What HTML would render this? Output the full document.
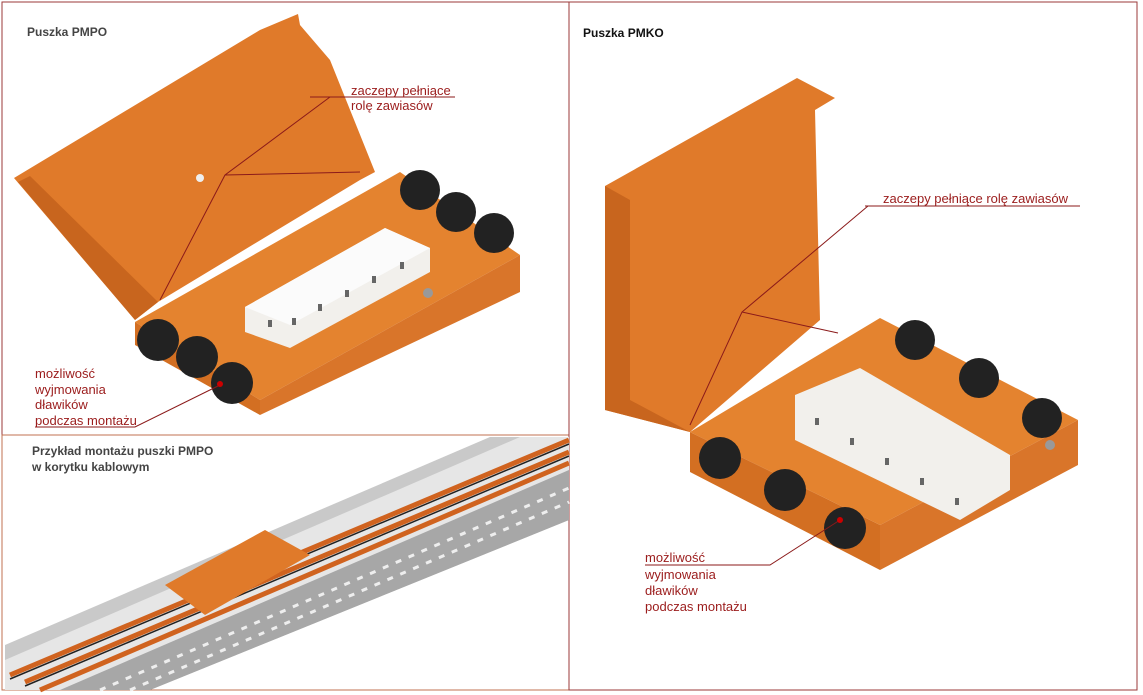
<!DOCTYPE html>
<html><head><meta charset="utf-8"><style>
html,body{margin:0;padding:0;background:#fff;width:1143px;height:695px;overflow:hidden}
svg{display:block;font-family:"Liberation Sans","Noto Sans CJK JP",sans-serif}
</style></head><body>
<svg width="1143" height="695" viewBox="0 0 1143 695" xmlns="http://www.w3.org/2000/svg">
<rect x="2" y="2" width="567" height="433" fill="none" stroke="#9b3a3a" stroke-width="1"/>
<rect x="2" y="435" width="567" height="255" fill="none" stroke="#c07050" stroke-width="1"/>
<rect x="569" y="2" width="568" height="688" fill="none" stroke="#9b3a3a" stroke-width="1"/>

<!-- PMPO top -->
<polygon points="14,178 260,30 298,14 300,25 330,60 375,172 360,180 158,302 135,320" fill="#e07a2a"/>
<polygon points="18,182 135,320 158,302 30,176" fill="#c8651e"/>
<polygon points="135,322 400,172 520,255 260,400" fill="#e4832f"/>
<polygon points="135,322 260,400 260,415 135,345" fill="#d36f22"/>
<polygon points="260,400 520,255 520,292 260,415" fill="#d9752a"/>
<polygon points="245,307 385,228 430,248 430,272 290,348 245,332" fill="#f2f0ec"/>
<polygon points="245,307 385,228 430,248 290,325" fill="#fbfbfb"/>
<g fill="#666"><rect x="268" y="320" width="4" height="7"/><rect x="292" y="318" width="4" height="7"/><rect x="318" y="304" width="4" height="7"/><rect x="345" y="290" width="4" height="7"/><rect x="372" y="276" width="4" height="7"/><rect x="400" y="262" width="4" height="7"/></g>
<g fill="#222"><circle cx="420" cy="190" r="20"/><circle cx="456" cy="212" r="20"/><circle cx="494" cy="233" r="20"/>
<circle cx="158" cy="340" r="21"/><circle cx="197" cy="357" r="21"/><circle cx="232" cy="383" r="21"/></g>
<circle cx="428" cy="293" r="5" fill="#999"/>
<circle cx="200" cy="178" r="4" fill="#eee"/>
<g stroke="#8b1a1a" stroke-width="1" fill="none">
<polyline points="310,97 455,97"/><polyline points="330,97 225,175 160,300"/><polyline points="225,175 360,172"/>
<polyline points="35,427 135,427 220,385"/>
</g>
<circle cx="220" cy="384" r="3" fill="#c00"/>
<text x="27" y="36" font-size="12" font-weight="bold" fill="#444">Puszka PMPO</text>
<g font-size="13" fill="#9b1c1c"><text x="351" y="95">zaczepy pełniące</text><text x="351" y="110">rolę zawiasów</text>
<text x="35" y="378">możliwość</text><text x="35" y="394">wyjmowania</text><text x="35" y="409">dławików</text><text x="35" y="425">podczas montażu</text></g>

<!-- PMPO tray -->
<polygon points="5,645 490,437 569,437 569,520 150,690 5,690" fill="#c9c9c9"/>
<polygon points="5,660 520,437 569,437 569,470 90,690 5,690" fill="#e6e6e6"/>
<polygon points="60,690 569,470 569,520 150,690" fill="#a7a7a7"/>
<g stroke="#eee" stroke-width="3" stroke-dasharray="6 8">
<line x1="100" y1="690" x2="569" y2="488"/><line x1="130" y1="690" x2="569" y2="502"/></g>
<g stroke="#d0631f" stroke-width="5"><line x1="10" y1="675" x2="569" y2="440"/><line x1="25" y1="682" x2="569" y2="452"/><line x1="40" y1="690" x2="569" y2="463"/></g>
<g stroke="#222" stroke-width="1.5"><line x1="10" y1="679" x2="569" y2="444"/><line x1="25" y1="686" x2="569" y2="456"/></g>
<polygon points="165,585 265,530 310,555 205,615" fill="#e07a2a"/>
<text x="32" y="455" font-size="12" font-weight="bold" fill="#444">Przykład montażu puszki PMPO</text>
<text x="32" y="471" font-size="12" font-weight="bold" fill="#444">w korytku kablowym</text>

<!-- PMKO -->
<polygon points="605,186 797,78 835,98 815,110 820,320 690,432 605,410" fill="#e07a2a"/>
<polygon points="605,186 630,200 630,400 690,432 605,410" fill="#c8651e"/>
<polygon points="690,432 880,318 1078,420 880,525" fill="#e4832f"/>
<polygon points="690,432 880,525 880,570 690,472" fill="#d36f22"/>
<polygon points="880,525 1078,420 1078,465 880,570" fill="#d9752a"/>
<polygon points="795,395 860,368 1010,455 1010,490 960,520 795,440" fill="#f2f0ec"/>
<g fill="#666"><rect x="815" y="418" width="4" height="7"/><rect x="850" y="438" width="4" height="7"/><rect x="885" y="458" width="4" height="7"/><rect x="920" y="478" width="4" height="7"/><rect x="955" y="498" width="4" height="7"/></g>
<g fill="#222"><circle cx="915" cy="340" r="20"/><circle cx="979" cy="378" r="20"/><circle cx="1042" cy="418" r="20"/>
<circle cx="720" cy="458" r="21"/><circle cx="785" cy="490" r="21"/><circle cx="845" cy="528" r="21"/></g>
<circle cx="1050" cy="445" r="5" fill="#999"/>
<g stroke="#8b1a1a" stroke-width="1" fill="none">
<polyline points="865,206 1080,206"/><polyline points="868,206 742,312 690,425"/><polyline points="742,312 838,333"/>
<polyline points="645,565 770,565 840,520"/>
</g>
<circle cx="840" cy="520" r="3" fill="#c00"/>
<text x="583" y="37" font-size="12" font-weight="bold" fill="#111">Puszka PMKO</text>
<g font-size="13" fill="#9b1c1c"><text x="883" y="203">zaczepy pełniące rolę zawiasów</text>
<text x="645" y="562">możliwość</text><text x="645" y="579">wyjmowania</text><text x="645" y="595">dławików</text><text x="645" y="611">podczas montażu</text></g>
</svg>
</body></html>
